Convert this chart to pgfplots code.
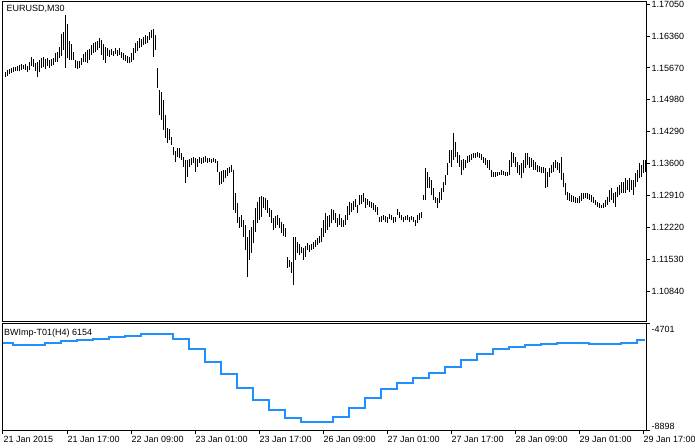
\documentclass[border=0pt]{standalone}
\usepackage{fontspec}
\setmainfont{Liberation Sans}
\usepackage{pgfplots}
\pgfplotsset{compat=1.18}
\usepackage{pgfplotstable}
\definecolor{indblue}{RGB}{30,144,255}
\pgfplotstableread{
i hi lo
0 1.1556 1.1545
1 1.1558 1.1547
2 1.1563 1.1550
3 1.1565 1.1554
4 1.1567 1.1556
5 1.1569 1.1558
6 1.1569 1.1560
7 1.1571 1.1560
8 1.1573 1.1560
9 1.1576 1.1563
10 1.1573 1.1565
11 1.1576 1.1563
12 1.1571 1.1558
13 1.1580 1.1563
14 1.1591 1.1571
15 1.1586 1.1569
16 1.1578 1.1560
17 1.1580 1.1547
18 1.1584 1.1558
19 1.1588 1.1567
20 1.1591 1.1569
21 1.1586 1.1565
22 1.1588 1.1571
23 1.1584 1.1567
24 1.1586 1.1571
25 1.1588 1.1573
26 1.1599 1.1580
27 1.1601 1.1580
28 1.1612 1.1588
29 1.1640 1.1593
30 1.1645 1.1606
31 1.1682 1.1567
32 1.1662 1.1588
33 1.1625 1.1584
34 1.1619 1.1584
35 1.1601 1.1584
36 1.1584 1.1567
37 1.1582 1.1565
38 1.1582 1.1567
39 1.1588 1.1573
40 1.1597 1.1580
41 1.1601 1.1580
42 1.1606 1.1578
43 1.1608 1.1584
44 1.1617 1.1595
45 1.1621 1.1599
46 1.1623 1.1601
47 1.1625 1.1606
48 1.1632 1.1610
49 1.1627 1.1595
50 1.1619 1.1584
51 1.1612 1.1578
52 1.1610 1.1593
53 1.1606 1.1591
54 1.1608 1.1595
55 1.1604 1.1593
56 1.1610 1.1597
57 1.1606 1.1593
58 1.1610 1.1595
59 1.1601 1.1588
60 1.1599 1.1584
61 1.1595 1.1582
62 1.1593 1.1578
63 1.1591 1.1578
64 1.1599 1.1580
65 1.1610 1.1584
66 1.1621 1.1599
67 1.1625 1.1604
68 1.1632 1.1610
69 1.1630 1.1612
70 1.1634 1.1617
71 1.1638 1.1619
72 1.1636 1.1621
73 1.1645 1.1627
74 1.1649 1.1632
75 1.1651 1.1591
76 1.1638 1.1606
77 1.1567 1.1524
78 1.1519 1.1465
79 1.1515 1.1454
80 1.1498 1.1433
81 1.1465 1.1416
82 1.1437 1.1405
83 1.1435 1.1411
84 1.1418 1.1400
85 1.1396 1.1379
86 1.1387 1.1364
87 1.1394 1.1374
88 1.1394 1.1372
89 1.1383 1.1368
90 1.1374 1.1353
91 1.1368 1.1318
92 1.1368 1.1331
93 1.1370 1.1353
94 1.1372 1.1357
95 1.1374 1.1361
96 1.1372 1.1342
97 1.1370 1.1353
98 1.1374 1.1361
99 1.1372 1.1359
100 1.1374 1.1361
101 1.1377 1.1364
102 1.1372 1.1361
103 1.1372 1.1364
104 1.1370 1.1361
105 1.1372 1.1364
106 1.1370 1.1361
107 1.1366 1.1342
108 1.1342 1.1314
109 1.1344 1.1316
110 1.1346 1.1320
111 1.1346 1.1329
112 1.1351 1.1333
113 1.1353 1.1340
114 1.1357 1.1342
115 1.1346 1.1260
116 1.1297 1.1253
117 1.1275 1.1232
118 1.1245 1.1221
119 1.1249 1.1223
120 1.1238 1.1201
121 1.1227 1.1173
122 1.1201 1.1115
123 1.1217 1.1152
124 1.1223 1.1167
125 1.1238 1.1188
126 1.1264 1.1212
127 1.1277 1.1232
128 1.1288 1.1238
129 1.1290 1.1245
130 1.1288 1.1264
131 1.1286 1.1260
132 1.1281 1.1253
133 1.1264 1.1245
134 1.1260 1.1232
135 1.1242 1.1217
136 1.1247 1.1221
137 1.1249 1.1227
138 1.1242 1.1221
139 1.1234 1.1210
140 1.1230 1.1204
141 1.1221 1.1201
142 1.1158 1.1134
143 1.1152 1.1137
144 1.1147 1.1123
145 1.1201 1.1097
146 1.1201 1.1152
147 1.1191 1.1167
148 1.1186 1.1162
149 1.1180 1.1167
150 1.1178 1.1152
151 1.1182 1.1158
152 1.1188 1.1173
153 1.1184 1.1169
154 1.1186 1.1173
155 1.1191 1.1175
156 1.1195 1.1180
157 1.1199 1.1184
158 1.1204 1.1188
159 1.1221 1.1191
160 1.1238 1.1201
161 1.1253 1.1210
162 1.1247 1.1217
163 1.1249 1.1223
164 1.1262 1.1232
165 1.1260 1.1238
166 1.1253 1.1232
167 1.1242 1.1223
168 1.1251 1.1227
169 1.1242 1.1223
170 1.1238 1.1223
171 1.1249 1.1227
172 1.1268 1.1238
173 1.1277 1.1249
174 1.1275 1.1255
175 1.1279 1.1260
176 1.1284 1.1266
177 1.1271 1.1253
178 1.1292 1.1271
179 1.1292 1.1273
180 1.1297 1.1277
181 1.1286 1.1264
182 1.1284 1.1271
183 1.1279 1.1266
184 1.1277 1.1264
185 1.1275 1.1260
186 1.1271 1.1255
187 1.1266 1.1249
188 1.1245 1.1234
189 1.1247 1.1234
190 1.1249 1.1238
191 1.1247 1.1234
192 1.1245 1.1232
193 1.1251 1.1240
194 1.1249 1.1238
195 1.1245 1.1232
196 1.1245 1.1234
197 1.1262 1.1249
198 1.1255 1.1242
199 1.1249 1.1238
200 1.1245 1.1234
201 1.1247 1.1238
202 1.1249 1.1238
203 1.1245 1.1234
204 1.1247 1.1238
205 1.1245 1.1234
206 1.1238 1.1225
207 1.1249 1.1232
208 1.1253 1.1238
209 1.1255 1.1242
210 1.1292 1.1281
211 1.1351 1.1281
212 1.1342 1.1307
213 1.1331 1.1307
214 1.1325 1.1292
215 1.1307 1.1281
216 1.1288 1.1275
217 1.1286 1.1264
218 1.1299 1.1275
219 1.1307 1.1281
220 1.1320 1.1299
221 1.1335 1.1314
222 1.1361 1.1335
223 1.1390 1.1361
224 1.1390 1.1353
225 1.1426 1.1368
226 1.1407 1.1374
227 1.1385 1.1361
228 1.1379 1.1353
229 1.1368 1.1335
230 1.1370 1.1346
231 1.1368 1.1351
232 1.1377 1.1361
233 1.1379 1.1364
234 1.1381 1.1368
235 1.1383 1.1372
236 1.1383 1.1372
237 1.1385 1.1374
238 1.1383 1.1372
239 1.1381 1.1368
240 1.1374 1.1361
241 1.1372 1.1357
242 1.1368 1.1351
243 1.1368 1.1346
244 1.1346 1.1331
245 1.1342 1.1331
246 1.1342 1.1331
247 1.1342 1.1333
248 1.1342 1.1335
249 1.1346 1.1335
250 1.1344 1.1335
251 1.1342 1.1333
252 1.1342 1.1333
253 1.1368 1.1335
254 1.1385 1.1353
255 1.1383 1.1361
256 1.1374 1.1353
257 1.1364 1.1340
258 1.1357 1.1335
259 1.1361 1.1329
260 1.1368 1.1340
261 1.1383 1.1351
262 1.1383 1.1357
263 1.1374 1.1351
264 1.1372 1.1353
265 1.1368 1.1346
266 1.1364 1.1346
267 1.1357 1.1342
268 1.1355 1.1342
269 1.1353 1.1340
270 1.1353 1.1340
271 1.1351 1.1307
272 1.1342 1.1310
273 1.1351 1.1331
274 1.1357 1.1340
275 1.1364 1.1342
276 1.1368 1.1351
277 1.1364 1.1346
278 1.1361 1.1340
279 1.1374 1.1325
280 1.1340 1.1310
281 1.1318 1.1292
282 1.1299 1.1281
283 1.1297 1.1279
284 1.1292 1.1277
285 1.1290 1.1277
286 1.1288 1.1275
287 1.1286 1.1275
288 1.1290 1.1275
289 1.1297 1.1279
290 1.1297 1.1284
291 1.1297 1.1286
292 1.1297 1.1284
293 1.1294 1.1281
294 1.1292 1.1277
295 1.1288 1.1275
296 1.1281 1.1271
297 1.1277 1.1266
298 1.1275 1.1264
299 1.1271 1.1264
300 1.1275 1.1264
301 1.1281 1.1266
302 1.1288 1.1271
303 1.1303 1.1277
304 1.1307 1.1281
305 1.1297 1.1275
306 1.1299 1.1266
307 1.1310 1.1288
308 1.1314 1.1292
309 1.1320 1.1297
310 1.1320 1.1297
311 1.1329 1.1297
312 1.1325 1.1303
313 1.1329 1.1299
314 1.1325 1.1303
315 1.1325 1.1292
316 1.1340 1.1310
317 1.1346 1.1320
318 1.1361 1.1329
319 1.1357 1.1331
320 1.1368 1.1340
321 1.1368 1.1342
}\bars

\begin{document}
\begin{tikzpicture}
\path[use as bounding box, fill=white] (0bp,0bp) rectangle (695bp,448bp);
\begin{axis}[
  at={(2.5bp,126bp)}, anchor=south west, scale only axis,
  width=643.5bp, height=320bp,
  xmin=-0.25, xmax=321.5, ymin=1.10175, ymax=1.17097,
  axis line style={line width=1bp},
  xtick=\empty,
  ytick={1.1084,1.1153,1.1222,1.1291,1.136,1.1429,1.1498,1.1567,1.1636,1.1705},
  yticklabels={1.10840,1.11530,1.12220,1.12910,1.13600,1.14290,1.14980,1.15670,1.16360,1.17050},
  ytick pos=right, yticklabel pos=right,
  tick align=outside, major tick length=4bp,
  every tick/.style={black, line width=1bp},
  yticklabel style={anchor=west, inner sep=0pt, xshift=1.5bp, font=\fontsize{9bp}{10bp}\selectfont},
]
\addplot[draw=none, mark=none,
  error bars/.cd, y dir=plus, y explicit, error mark=none,
  error bar style={draw=black, line width=1bp}]
  table[x=i, y=lo, y error expr=\thisrow{hi}-\thisrow{lo}] {\bars};
\node[anchor=west, inner sep=0pt, font=\fontsize{9bp}{10bp}\selectfont]
  at (rel axis cs:0,1) [xshift=4bp, yshift=-7bp] {EURUSD,M30};
\end{axis}

\begin{axis}[
  at={(2.5bp,18bp)}, anchor=south west, scale only axis,
  width=643.5bp, height=106bp,
  xmin=-0.25, xmax=321.5, ymin=-8898, ymax=-4701,
  axis line style={line width=1bp},
  xtick={0,32,64,96,128,160,192,224,256,288,320},
  xticklabels={21 Jan 2015,21 Jan 17:00,22 Jan 09:00,23 Jan 01:00,23 Jan 17:00,26 Jan 09:00,27 Jan 01:00,27 Jan 17:00,28 Jan 09:00,29 Jan 01:00,29 Jan 17:00},
  xtick pos=bottom,
  ytick={-8898,-4701}, yticklabels={\empty,\empty}, ytick pos=right,
  tick align=outside, major tick length=4bp,
  every tick/.style={black, line width=1bp},
  xticklabel style={anchor=north west, inner sep=0pt, xshift=0.5bp, yshift=-2bp, font=\fontsize{9bp}{10bp}\selectfont},
  clip=false,
]
\addplot[const plot, color=indblue, line width=2bp] coordinates {
(0,-5465) (5,-5521) (21,-5441) (29,-5374) (37,-5323) (45,-5283)
(53,-5216) (61,-5164) (69,-5085) (85,-5283) (93,-5691) (101,-6194)
(109,-6693) (117,-7224) (125,-7722) (133,-8118) (141,-8411) (149,-8570)
(165,-8384) (173,-8027) (181,-7631) (189,-7275) (197,-7026) (205,-6828)
(213,-6630) (221,-6392) (229,-6127) (237,-5877) (245,-5691) (253,-5600)
(261,-5521) (269,-5481) (277,-5441) (293,-5481) (309,-5441) (317,-5335)
(321,-5335)
};
\node[anchor=west, inner sep=0pt, font=\fontsize{9bp}{10bp}\selectfont]
  at (rel axis cs:0,1) [xshift=1.5bp, yshift=-9.3bp] {BWImp-T01(H4) 6154};
\node[anchor=west, inner sep=0pt, font=\fontsize{9bp}{10bp}\selectfont]
  at (rel axis cs:1,1) [xshift=5.5bp, yshift=-5.3bp] {-4701};
\node[anchor=west, inner sep=0pt, font=\fontsize{9bp}{10bp}\selectfont]
  at (rel axis cs:1,0) [xshift=5.5bp, yshift=4bp] {-8898};
\end{axis}
\end{tikzpicture}
\end{document}
